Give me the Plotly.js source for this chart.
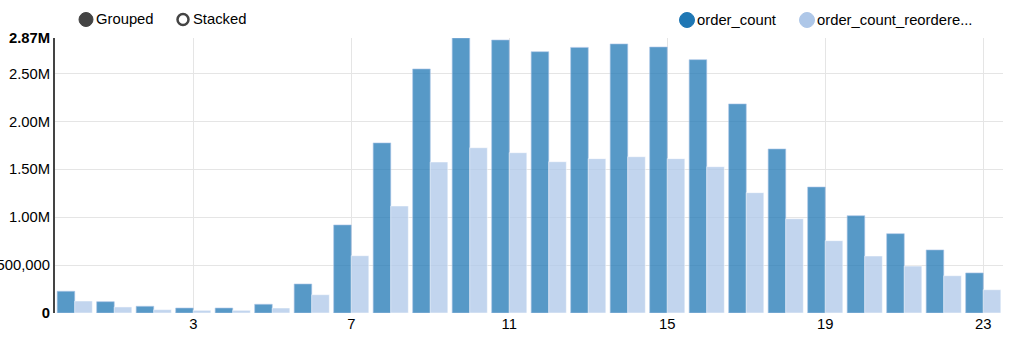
<!DOCTYPE html>
<html>
<head>
<meta charset="utf-8">
<script src="https://cdn.plot.ly/plotly-3.0.1.min.js"></script>
<style>html,body{margin:0;padding:0;background:#fff;}#chart{width:1021px;height:347px;}</style>
</head>
<body>
<div id="chart"></div>
<script>
// ---- data ----
const hours = [0,1,2,3,4,5,6,7,8,9,10,11,12,13,14,15,16,17,18,19,20,21,22,23];
const orderCount = [227000,118000,70000,52000,52000,91000,303000,919000,1775000,2547000,2870000,2849000,2727000,2772000,2808000,2776000,2644000,2182000,1712000,1315000,1016000,828000,658000,418000];
const orderCountReordered = [125000,63000,35000,28000,28000,52000,191000,598000,1117000,1576000,1725000,1673000,1579000,1611000,1631000,1611000,1527000,1256000,984000,755000,595000,490000,389000,243000];
const seriesNames = ['order_count', 'order_count_reordere...'];
const xTickVals = [3,7,11,15,19,23];
const yTickVals = [0,500000,1000000,1500000,2000000,2500000];
const yTickText = ['<b>0</b>','500,000','1.00M','1.50M','2.00M','2.50M'];
const yMax = 2870000;
const yMaxLabel = '<b>2.87M</b>';
const controlLabels = ['Grouped','Stacked'];

// ---- layout helpers ----
const W = 1021, H = 347;
const M = {l: 55, r: 18, t: 38, b: 34};
const pw = W - M.l - M.r, ph = H - M.t - M.b;
const px = x => (x - M.l) / pw;
const py = y => (H - M.b - y) / ph;
const FONT = 'Arial, "Liberation Sans", sans-serif';
const FS = 14.8;

const colors = ['rgba(31,119,180,0.75)', 'rgba(174,199,232,0.75)'];
const solid = ['#1f77b4', '#aec7e8'];

const traces = [
  {type: 'bar', x: hours, y: orderCount, name: seriesNames[0],
   marker: {color: colors[0], line: {color: 'rgba(174,199,232,0.6)', width: 1}}, hoverinfo: 'x+y'},
  {type: 'bar', x: hours, y: orderCountReordered, name: seriesNames[1],
   marker: {color: colors[1], line: {color: 'rgba(255,255,255,0.5)', width: 1}}, hoverinfo: 'x+y'}
];

function circle(cx, cy, r, fill, stroke, sw) {
  return {type: 'circle', xref: 'paper', yref: 'paper', xsizemode: 'pixel', ysizemode: 'pixel',
    xanchor: px(cx), yanchor: py(cy), x0: -r, x1: r, y0: -r, y1: r,
    fillcolor: fill, line: {color: stroke, width: sw}, layer: 'above'};
}
function label(x, y, text) {
  return {xref: 'paper', yref: 'paper', x: px(x), y: py(y), text: text, showarrow: false,
    xanchor: 'left', yanchor: 'middle', font: {family: FONT, size: FS, color: '#000'}};
}

const layout = {
  width: W, height: H,
  margin: M,
  paper_bgcolor: '#fff', plot_bgcolor: '#fff',
  barmode: 'group', bargap: 0.11, bargroupgap: 0,
  showlegend: false,
  font: {family: FONT, size: FS, color: '#000'},
  xaxis: {range: [-0.5, 23.5], tickmode: 'array', tickvals: xTickVals, ticks: '',
    showgrid: true, gridcolor: '#e5e5e5', gridwidth: 1, zeroline: false, showline: false,
    tickfont: {family: FONT, size: FS, color: '#000'}, fixedrange: true},
  yaxis: {range: [0, yMax], tickmode: 'array', tickvals: yTickVals, ticktext: yTickText, ticks: '',
    showgrid: true, gridcolor: '#e5e5e5', gridwidth: 1, zeroline: false,
    showline: true, linecolor: '#444', linewidth: 2,
    tickfont: {family: FONT, size: FS, color: '#000'}, fixedrange: true},
  shapes: [
    circle(86, 19.5, 7, '#444', '#444', 1),
    circle(183, 19.5, 5.5, '#fff', '#444', 2.5),
    circle(687, 20, 7.5, solid[0], solid[0], 1),
    circle(807, 20, 7.5, solid[1], solid[1], 1)
  ],
  annotations: [
    label(94, 19.5, controlLabels[0]),
    label(191, 19.5, controlLabels[1]),
    label(695, 20, seriesNames[0]),
    label(815, 20, seriesNames[1]),
    {xref: 'paper', yref: 'y', x: 0, y: yMax, text: yMaxLabel, showarrow: false,
     xanchor: 'right', yanchor: 'middle', xshift: -3, font: {family: FONT, size: FS, color: '#000'}}
  ]
};

Plotly.newPlot('chart', traces, layout, {displayModeBar: false, staticPlot: true});
</script>
</body>
</html>
